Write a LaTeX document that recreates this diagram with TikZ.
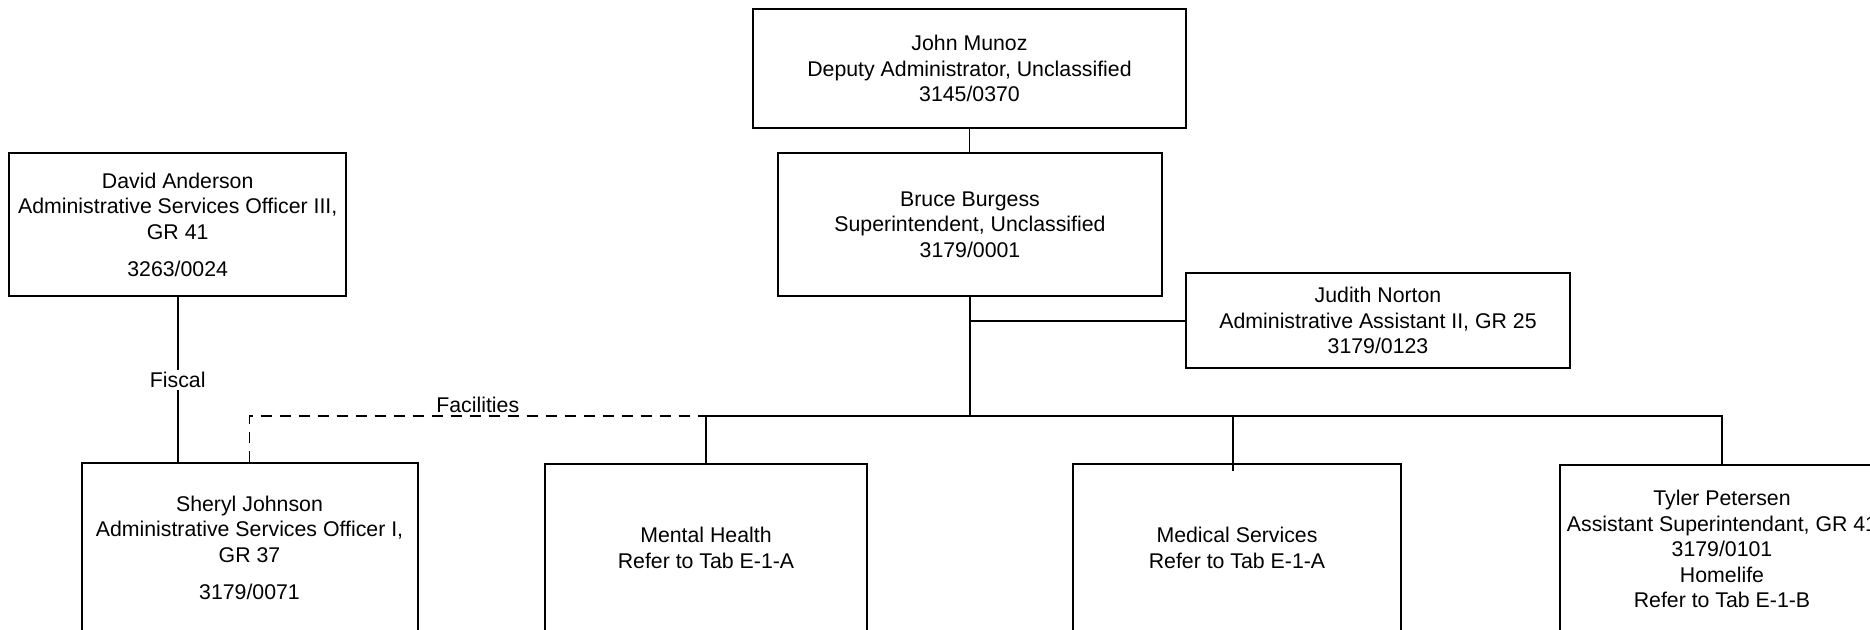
\documentclass[tikz,border=0pt]{standalone}
\usepackage{fontspec}
\setmainfont{Liberation Sans}
\begin{document}
\begin{tikzpicture}[x=0.5pt,y=-0.5pt,
  box/.style={draw, line width=1pt, align=center, inner sep=0pt, font=\fontsize{10.65}{12.75}\selectfont},
  conn/.style={line width=0.9pt},
  lbl/.style={font=\fontsize{10.65}{12.75}\selectfont, inner sep=1pt}]
\useasboundingbox (0,0) rectangle (1870,629);
\clip (0,0) rectangle (1870,629);
\node[box, minimum width=216.5pt, minimum height=59.5pt] (john) at (969.5,68.8) {John Munoz\\Deputy Administrator, Unclassified\\3145/0370};
\node[box, minimum width=192pt, minimum height=71.75pt] (bruce) at (970,224.7) {Bruce Burgess\\Superintendent, Unclassified\\3179/0001};
\node[box, minimum width=168.25pt, minimum height=71.75pt] (david) at (177.7,224.7) {David Anderson\\Administrative Services Officer III,\\GR 41\\[5.7pt]3263/0024};
\node[box, minimum width=192pt, minimum height=47.5pt] (judith) at (1378,320.8) {Judith Norton\\Administrative Assistant II, GR 25\\3179/0123};
\node[box, minimum width=168pt, minimum height=84.5pt] (sheryl) at (249.5,547.5) {Sheryl Johnson\\Administrative Services Officer I,\\GR 37\\[5.7pt]3179/0071};
\node[box, minimum width=161pt, minimum height=84pt] (mental) at (706,548) {Mental Health\\Refer to Tab E-1-A};
\node[box, minimum width=164pt, minimum height=84pt] (medical) at (1237,548) {Medical Services\\Refer to Tab E-1-A};
\node[box, minimum width=162pt, minimum height=84pt] (tyler) at (1722,549) {Tyler Petersen\\Assistant Superintendant, GR 41\\3179/0101\\Homelife\\Refer to Tab E-1-B};
\coordinate (hub) at (970,416);
\coordinate (medtop) at ([xshift=-2pt,yshift=-4pt]medical.north);
\draw[conn] (john.south) -- (john.south |- bruce.north);
\draw[conn] (bruce.south) -- (hub);
\draw[conn] (judith.west) -- (judith.west -| hub);
\draw[conn] (mental.north) -- (mental.north |- hub) -- (tyler.north |- hub) -- (tyler.north);
\draw[conn] (medtop) -- (medtop |- hub);
\draw[conn, dash pattern=on 5.5pt off 4pt] (sheryl.north) -- (sheryl.north |- hub) -- node[lbl, above] {Facilities} (mental.north |- hub);
\draw[conn] (david.south) -- node[lbl, fill=white] {Fiscal} (david.south |- sheryl.north);
\end{tikzpicture}
\end{document}
